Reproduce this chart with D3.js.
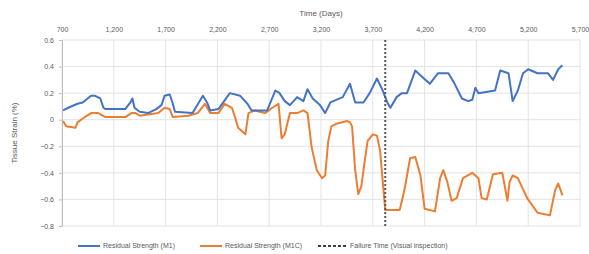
<!DOCTYPE html>
<html>
<head>
<meta charset="utf-8">
<script src="https://cdn.jsdelivr.net/npm/d3@7"></script>
<style>
  body { margin: 0; background: #fff; }
  svg { display: block; font-family: "Liberation Sans", "DejaVu Sans", sans-serif; }
</style>
</head>
<body>
<div></div>
<script>
const width = 589;
const height = 254;

// data
const m1Days = [710, 760, 850, 900, 980, 1020, 1070, 1100, 1120, 1310, 1360, 1380, 1400, 1450, 1530, 1610, 1660, 1690, 1740, 1770, 1790, 1960, 2060, 2100, 2130, 2210, 2320, 2420, 2490, 2530, 2680, 2760, 2800, 2850, 2900, 2970, 3030, 3070, 3120, 3190, 3240, 3290, 3410, 3480, 3530, 3610, 3670, 3740, 3790, 3840, 3870, 3930, 3980, 4030, 4110, 4180, 4250, 4330, 4430, 4490, 4560, 4620, 4660, 4690, 4720, 4880, 4930, 5010, 5050, 5100, 5150, 5200, 5290, 5390, 5440, 5490, 5530];
const m1Vals = [0.07, 0.09, 0.12, 0.13, 0.18, 0.18, 0.16, 0.09, 0.08, 0.08, 0.13, 0.16, 0.09, 0.06, 0.05, 0.08, 0.11, 0.18, 0.19, 0.12, 0.06, 0.05, 0.18, 0.13, 0.07, 0.08, 0.2, 0.18, 0.12, 0.07, 0.07, 0.22, 0.2, 0.14, 0.11, 0.17, 0.14, 0.23, 0.16, 0.11, 0.05, 0.13, 0.17, 0.27, 0.13, 0.13, 0.2, 0.31, 0.23, 0.13, 0.09, 0.17, 0.2, 0.2, 0.37, 0.32, 0.27, 0.35, 0.35, 0.27, 0.16, 0.14, 0.15, 0.24, 0.2, 0.22, 0.37, 0.35, 0.14, 0.22, 0.35, 0.38, 0.35, 0.35, 0.3, 0.38, 0.41];

const m1cDays = [710, 740, 830, 850, 920, 980, 1050, 1120, 1310, 1370, 1410, 1450, 1630, 1690, 1740, 1770, 1920, 2010, 2080, 2130, 2210, 2270, 2340, 2370, 2400, 2470, 2500, 2560, 2660, 2730, 2790, 2820, 2850, 2900, 2970, 3030, 3070, 3110, 3160, 3210, 3240, 3270, 3300, 3350, 3450, 3480, 3500, 3530, 3560, 3590, 3610, 3650, 3700, 3740, 3770, 3800, 3820, 3900, 3960, 4010, 4060, 4110, 4160, 4200, 4300, 4350, 4380, 4420, 4460, 4510, 4570, 4660, 4720, 4750, 4800, 4860, 4950, 5000, 5020, 5050, 5100, 5190, 5290, 5410, 5460, 5490, 5530];
const m1cVals = [-0.01, -0.05, -0.06, -0.02, 0.02, 0.05, 0.05, 0.02, 0.02, 0.05, 0.05, 0.03, 0.05, 0.09, 0.08, 0.02, 0.03, 0.05, 0.12, 0.05, 0.05, 0.12, 0.09, 0.02, -0.06, -0.11, 0.05, 0.07, 0.05, 0.09, 0.12, -0.14, -0.11, 0.05, 0.05, 0.07, 0.05, -0.21, -0.38, -0.44, -0.42, -0.16, -0.05, -0.03, -0.01, -0.02, -0.05, -0.38, -0.56, -0.5, -0.38, -0.16, -0.11, -0.12, -0.23, -0.5, -0.68, -0.68, -0.68, -0.51, -0.29, -0.28, -0.42, -0.67, -0.69, -0.44, -0.38, -0.47, -0.61, -0.59, -0.44, -0.4, -0.44, -0.59, -0.6, -0.41, -0.4, -0.61, -0.47, -0.42, -0.44, -0.59, -0.7, -0.72, -0.53, -0.48, -0.57];

const failureDay = 3820;
const xTicks = [700, 1200, 1700, 2200, 2700, 3200, 3700, 4200, 4700, 5200, 5700];
const yTicks = [0.6, 0.4, 0.2, 0, -0.2, -0.4, -0.6, -0.8];
const seriesNames = ["Residual Strength (M1)", "Residual Strength (M1C)", "Failure Time (Visual inspection)"];

const margin = { top: 40, right: 9, bottom: 28, left: 62 };

const svg = d3.select('div')
    .append('svg')
    .attr('width', width)
    .attr('height', height);

const x = d3.scaleLinear()
    .domain([700, 5700])
    .range([margin.left, width - margin.right]);

const y = d3.scaleLinear()
    .domain([-0.8, 0.6])
    .range([height - margin.bottom, margin.top]);

const fmt = d3.format(',');

// gridlines
svg.append('g')
    .selectAll('line')
    .data(yTicks)
    .join('line')
    .attr('x1', margin.left)
    .attr('x2', width - margin.right)
    .attr('y1', d => y(d))
    .attr('y2', d => y(d))
    .attr('stroke', '#e3e3e3')
    .attr('stroke-width', 1);

svg.append('g')
    .selectAll('line')
    .data(xTicks)
    .join('line')
    .attr('x1', d => x(d))
    .attr('x2', d => x(d))
    .attr('y1', y(0.6))
    .attr('y2', y(-0.8))
    .attr('stroke', '#e3e3e3')
    .attr('stroke-width', 1);

// top x axis
const xAxis = svg.append('g')
    .attr('transform', `translate(0,${margin.top - 4})`)
    .call(d3.axisTop(x).tickValues(xTicks).tickFormat(fmt).tickSize(0));
xAxis.select('.domain').remove();
xAxis.selectAll('text')
    .attr('fill', '#595959')
    .attr('font-size', 7)
    .attr('dy', '-0.2em');

// left y axis
const yAxis = svg.append('g')
    .attr('transform', `translate(${margin.left},0)`)
    .call(d3.axisLeft(y).tickValues(yTicks).tickFormat(d => d === 0 ? '0' : d3.format('.1f')(d)).tickSize(3).tickPadding(5));
yAxis.select('.domain').attr('stroke', '#bfbfbf');
yAxis.selectAll('.tick line').attr('stroke', '#bfbfbf');
yAxis.selectAll('text')
    .attr('fill', '#595959')
    .attr('font-size', 7);

// axis titles
svg.append('text')
    .attr('x', x(3200))
    .attr('y', 16)
    .attr('text-anchor', 'middle')
    .attr('font-size', 8)
    .attr('fill', '#595959')
    .text('Time (Days)');

svg.append('text')
    .attr('transform', `translate(17,${y(-0.1)}) rotate(-90)`)
    .attr('text-anchor', 'middle')
    .attr('font-size', 8)
    .attr('fill', '#595959')
    .text('Tissue Strain (%)');

// lines
const line = d3.line()
    .x(d => x(d[0]))
    .y(d => y(d[1]));

svg.append('path')
    .datum(d3.zip(m1cDays, m1cVals))
    .attr('fill', 'none')
    .attr('stroke', '#ED7D31')
    .attr('stroke-width', 2)
    .attr('stroke-linejoin', 'round')
    .attr('d', line);

svg.append('path')
    .datum(d3.zip(m1Days, m1Vals))
    .attr('fill', 'none')
    .attr('stroke', '#4472C4')
    .attr('stroke-width', 2)
    .attr('stroke-linejoin', 'round')
    .attr('d', line);

// failure line
svg.append('line')
    .attr('x1', x(failureDay))
    .attr('x2', x(failureDay))
    .attr('y1', y(0.6))
    .attr('y2', y(-0.8))
    .attr('stroke', '#595959')
    .attr('stroke-width', 2)
    .attr('stroke-dasharray', '2,2');

// legend
const legend = [
    { name: seriesNames[0], color: '#4472C4', dash: null, x0: 78 },
    { name: seriesNames[1], color: '#ED7D31', dash: null, x0: 200 },
    { name: seriesNames[2], color: '#404040', dash: '3,2', x0: 318 }
];

const lg = svg.append('g')
    .selectAll('g')
    .data(legend)
    .join('g')
    .attr('transform', d => `translate(${d.x0},246)`);

lg.append('line')
    .attr('x1', 0)
    .attr('x2', d => d.dash ? 28 : 22)
    .attr('stroke', d => d.color)
    .attr('stroke-width', 2)
    .attr('stroke-dasharray', d => d.dash);

lg.append('text')
    .attr('x', d => d.dash ? 32 : 25)
    .attr('dy', '0.35em')
    .attr('font-size', 7)
    .attr('fill', '#595959')
    .text(d => d.name);
</script>
</body>
</html>
